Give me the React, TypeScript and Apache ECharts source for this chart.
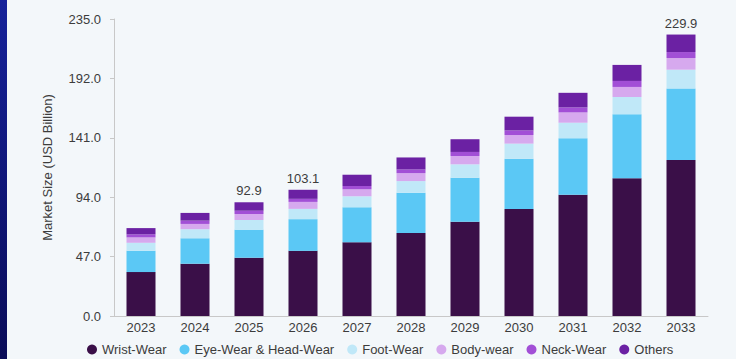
import React, { useEffect, useRef } from "react";
import * as echarts from "echarts";

const categories = ["2023", "2024", "2025", "2026", "2027", "2028", "2029", "2030", "2031", "2032", "2033"];
const wristWear = [35.9, 42.7, 47.6, 53.2, 60.2, 67.8, 77.0, 87.4, 99.1, 112.5, 127.5];
const eyeHeadWear = [17.4, 20.8, 22.9, 25.9, 28.6, 32.9, 35.9, 41.1, 46.1, 52.3, 58.4];
const footWear = [6.5, 7.4, 7.9, 8.4, 9.0, 9.5, 11.0, 12.3, 12.7, 14.1, 15.3];
const bodyWear = [4.4, 4.3, 4.9, 5.7, 5.7, 6.5, 6.8, 7.0, 8.4, 8.2, 9.5];
const neckWear = [2.5, 2.7, 2.7, 2.5, 2.7, 3.0, 3.3, 3.8, 4.1, 4.9, 4.9];
const others = [5.1, 6.3, 6.9, 7.4, 9.2, 9.8, 10.4, 11.2, 11.9, 13.1, 14.3];
const totalLabels = ["", "", "92.9", "103.1", "", "", "", "", "", "", "229.9"];
const yTickLabels = ["0.0", "47.0", "94.0", "141.0", "192.0", "235.0"];

const seriesNames = ["Wrist-Wear", "Eye-Wear & Head-Wear", "Foot-Wear", "Body-wear", "Neck-Wear", "Others"];
const seriesColors = ["#3a0f48", "#5bc8f5", "#c0e8f8", "#d6a9ee", "#a24fd6", "#6b21a3"];

const Y_INTERVAL = 48.52;
const Y_MAX = Y_INTERVAL * 5;

export default function App() {
  const ref = useRef<HTMLDivElement>(null);
  useEffect(() => {
    document.body.style.margin = "0";
    const chart = echarts.init(ref.current!, undefined, { renderer: "svg" });
    const font = "'Liberation Sans', Arial, sans-serif";
    const values = [wristWear, eyeHeadWear, footWear, bodyWear, neckWear, others];
    const series: any[] = values.map((vals, i) => ({
      name: seriesNames[i],
      type: "bar",
      stack: "total",
      barWidth: 29,
      itemStyle: { color: seriesColors[i] },
      data:
        i === values.length - 1
          ? vals.map((v, j) => ({
              value: v,
              label: {
                show: totalLabels[j] !== "",
                position: "top",
                distance: 5,
                formatter: () => totalLabels[j],
                color: "#3c3c3c",
                fontSize: 13,
                fontFamily: font,
              },
            }))
          : vals,
    }));
    chart.setOption({
      animation: false,
      backgroundColor: "#f3f7fa",
      textStyle: { fontFamily: font },
      graphic: [
        {
          type: "rect",
          left: 0,
          top: 0,
          shape: { width: 7, height: 359 },
          style: {
            fill: new echarts.graphic.LinearGradient(0, 0, 0, 1, [
              { offset: 0, color: "#16229a" },
              { offset: 1, color: "#0a0c58" },
            ]),
          },
        },
      ],
      grid: { left: 114, right: 28, top: 19, bottom: 43, containLabel: false },
      legend: {
        left: 87,
        top: 343,
        padding: 0,
        icon: "circle",
        itemWidth: 10,
        itemHeight: 10,
        itemGap: 13,
        textStyle: { color: "#3c3c3c", fontSize: 13, fontFamily: font },
        data: seriesNames,
      },
      xAxis: {
        type: "category",
        data: categories,
        axisLine: { lineStyle: { color: "#c8c8c8" } },
        axisTick: { show: false },
        axisLabel: { color: "#3c3c3c", fontSize: 13, margin: 5, fontFamily: font },
      },
      yAxis: {
        type: "value",
        min: 0,
        max: Y_MAX,
        interval: Y_INTERVAL,
        name: "Market Size (USD Billion)",
        nameLocation: "middle",
        nameGap: 60,
        nameTextStyle: { color: "#3c3c3c", fontSize: 13, fontFamily: font },
        axisLine: { show: true, lineStyle: { color: "#c8c8c8" } },
        axisTick: { show: true, length: 4, lineStyle: { color: "#c8c8c8" } },
        splitLine: { show: false },
        axisLabel: {
          color: "#3c3c3c",
          fontSize: 13,
          margin: 13,
          fontFamily: font,
          formatter: (v: number) => yTickLabels[Math.round(v / Y_INTERVAL)] ?? "",
        },
      },
      series,
    });
    return () => chart.dispose();
  }, []);
  return <div ref={ref} style={{ width: 736, height: 359 }} />;
}
